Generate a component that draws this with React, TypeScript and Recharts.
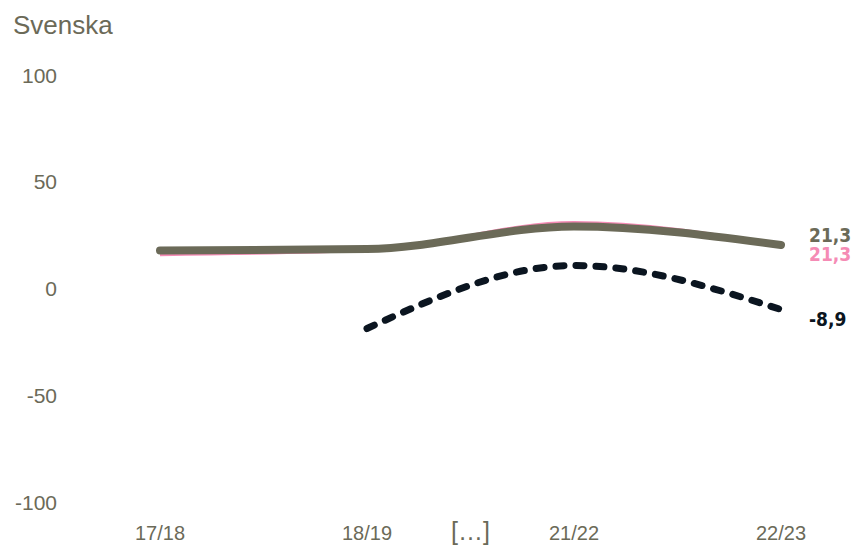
import React from "react";
import { LineChart, Line, XAxis, YAxis, LabelList } from "recharts";

const categories = ["17/18", "18/19", "21/22", "22/23"];
const gapMarker = { at: 1.5, label: "[…]" };
const totalValues = [18.7, 19.4, 30.0, 21.3];
const pinkValues = [16.8, 18.8, 31.8, 21.3];
const dashedValues: (number | null)[] = [null, -17.8, 11.7, -8.9];
const yTicks = [-100, -50, 0, 50, 100];

const GRAY = "#6b6a58";
const PINK = "#f58bb5";
const DARK = "#0b1520";

const data = categories.map((c, i) => ({
  x: i,
  name: c,
  total: totalValues[i],
  pink: pinkValues[i],
  dashed: dashedValues[i],
}));

const xTicks = [0, 1, gapMarker.at, 2, 3];

function XTick(props: any) {
  const { x, y, payload } = props;
  const isGap = payload.value === gapMarker.at;
  const label = isGap ? gapMarker.label : categories[payload.value];
  return (
    <text
      x={x}
      y={y + (isGap ? 21 : 23)}
      textAnchor="middle"
      dominantBaseline="middle"
      fill={GRAY}
      fontSize={isGap ? 25 : 20}
      fontFamily="'Liberation Sans', Arial, sans-serif"
    >
      {label}
    </text>
  );
}

function YTick(props: any) {
  const { y, payload } = props;
  return (
    <text
      x={57}
      y={y}
      textAnchor="end"
      dominantBaseline="middle"
      fill={GRAY}
      fontSize={21}
      fontFamily="'Liberation Sans', Arial, sans-serif"
    >
      {payload.value}
    </text>
  );
}

const endLabel = (color: string, dy: number, count: number) => (props: any) => {
  const { x, y, value, index } = props;
  if (index !== count - 1 || value == null) return null;
  return (
    <text
      x={x + 28}
      y={y + dy}
      dominantBaseline="middle"
      fill={color}
      fontSize={19}
      fontWeight="bold"
      fontFamily="'DejaVu Sans Condensed', sans-serif"
    >
      {String(value).replace(".", ",")}
    </text>
  );
};

export default function App() {
  return (
    <div style={{ position: "absolute", left: 0, top: 0, width: 855, height: 546, background: "#fff" }}>
      <div
        style={{
          position: "absolute",
          left: 13,
          top: 10,
          fontSize: 26,
          color: GRAY,
          fontFamily: "'Liberation Sans', Arial, sans-serif",
        }}
      >
        Svenska
      </div>
      <LineChart
        width={855}
        height={546}
        data={data}
        margin={{ top: 77, right: 0, bottom: 12, left: 0 }}
        style={{ overflow: "visible" }}
      >
        <XAxis
          dataKey="x"
          type="number"
          domain={[0, 3]}
          ticks={xTicks}
          interval={0}
          tick={<XTick />}
          axisLine={false}
          tickLine={false}
          height={30}
          padding={{ left: 90, right: 74 }}
        />
        <YAxis
          domain={[-100, 100]}
          ticks={yTicks}
          tick={<YTick />}
          axisLine={false}
          tickLine={false}
          width={70}
        />
        <Line
          type="monotone"
          dataKey="pink"
          stroke={PINK}
          strokeWidth={3}
          dot={false}
          isAnimationActive={false}
        >
          <LabelList dataKey="pink" content={endLabel(PINK, 10, categories.length)} />
        </Line>
        <Line
          type="monotone"
          dataKey="total"
          stroke={GRAY}
          strokeWidth={8}
          strokeLinecap="round"
          dot={false}
          isAnimationActive={false}
        >
          <LabelList dataKey="total" content={endLabel(GRAY, -9, categories.length)} />
        </Line>
        <Line
          type="monotone"
          dataKey="dashed"
          stroke={DARK}
          strokeWidth={7}
          strokeDasharray="8 12"
          strokeLinecap="round"
          dot={false}
          connectNulls={false}
          isAnimationActive={false}
        >
          <LabelList dataKey="dashed" content={endLabel(DARK, 11, categories.length)} />
        </Line>
      </LineChart>
    </div>
  );
}
